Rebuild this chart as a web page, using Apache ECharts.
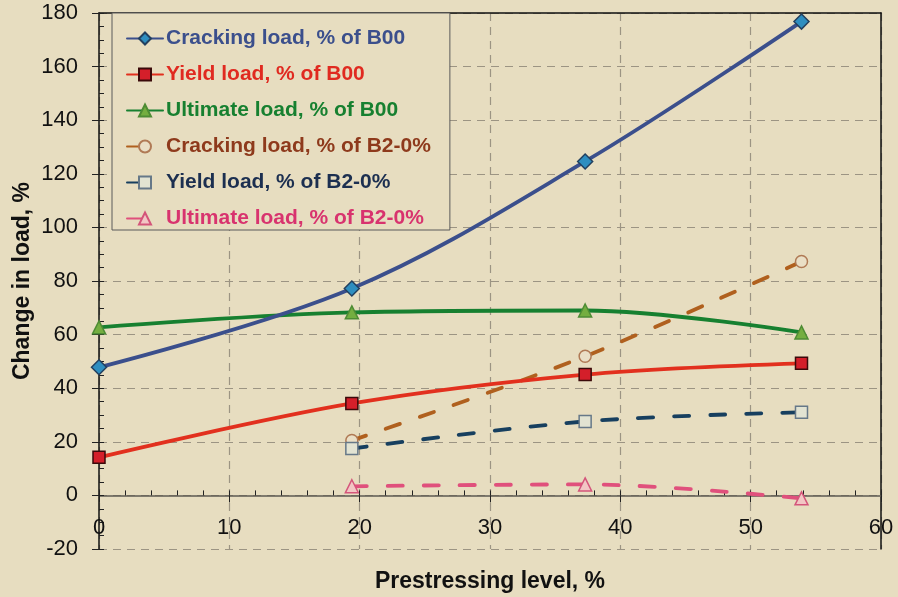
<!DOCTYPE html>
<html>
<head>
<meta charset="utf-8">
<script src="https://cdn.jsdelivr.net/npm/echarts@6/dist/echarts.min.js"></script>
<style>
  html, body { margin: 0; padding: 0; background: #E7DDC0; }
  #chart { width: 898px; height: 597px; }
</style>
</head>
<body>
<div id="chart"></div>
<script>
// Prestressing levels (%) of the tested beams
const prestress = [0, 19.4, 37.3, 53.9];
const prestressB2 = [19.4, 37.3, 53.9];

// Load change relative to B00 (%)
const crackB00 = [47.8, 77.2, 124.6, 176.8];
const yieldB00 = [14.2, 34.3, 45.1, 49.3];
const ultB00 = [62.7, 68.3, 69.0, 60.8];

// Load change relative to B2-0% (%)
const crackB2 = [20.5, 51.9, 87.3];
const yieldB2 = [17.5, 27.6, 31.0];
const ultB2 = [3.4, 4.1, -1.1];

const seriesNames = [
  'Cracking load, % of B00',
  'Yield load, % of B00',
  'Ultimate load, % of B00',
  'Cracking load, % of B2-0%',
  'Yield load, % of B2-0%',
  'Ultimate load, % of B2-0%'
];

const FONT = '"Liberation Sans", Arial, sans-serif';
const BG = '#E7DDC0';
const GRID = '#9C9483';

// plot box in pixels
const PLOT_TOP = 13, PLOT_BOTTOM = 549;
const Y_MIN = -20, Y_MAX = 180;
// distance from the bottom edge (value -20) up to the zero line
const ZERO_OFFSET = (PLOT_BOTTOM - PLOT_TOP) * (0 - Y_MIN) / (Y_MAX - Y_MIN);

function pairs(xs, ys) { return xs.map((x, i) => [x, ys[i]]); }

function lineSeries(name, xs, ys, opt) {
  return {
    name: name,
    type: 'line',
    xAxisIndex: 0,
    yAxisIndex: 0,
    smooth: 0.35,
    data: pairs(xs, ys),
    symbol: opt.symbol,
    symbolSize: opt.size,
    lineStyle: { color: opt.line, width: 3.8, type: opt.dash || 'solid', cap: 'round' },
    itemStyle: { color: opt.fill, borderColor: opt.border, borderWidth: 1.5 },
    z: opt.z || 3
  };
}

const DASH = [15, 21];

const series = [
  lineSeries(seriesNames[0], prestress, crackB00, { symbol: 'diamond', size: 15, line: '#3B4F8C', fill: '#2E8EC0', border: '#23405F', z: 5 }),
  lineSeries(seriesNames[1], prestress, yieldB00, { symbol: 'rect', size: 12, line: '#E2301E', fill: '#D41F2A', border: '#3A0A0A', z: 5 }),
  lineSeries(seriesNames[2], prestress, ultB00, { symbol: 'triangle', size: 13, line: '#178030', fill: '#74AE40', border: '#4E8C34', z: 4 }),
  lineSeries(seriesNames[3], prestressB2, crackB2, { symbol: 'circle', size: 12, line: '#B0601E', fill: '#EADFC6', border: '#B07A55', dash: DASH }),
  lineSeries(seriesNames[4], prestressB2, yieldB2, { symbol: 'rect', size: 12, line: '#173F5F', fill: '#E2E3D2', border: '#667888', dash: DASH }),
  lineSeries(seriesNames[5], prestressB2, ultB2, { symbol: 'triangle', size: 13, line: '#E0507C', fill: '#F2C6C4', border: '#D4557A', dash: DASH })
];

const legendColors = ['#3B4F8C', '#E02A20', '#178030', '#8E3A1C', '#1C2F50', '#D8336E'];

const option = {
  backgroundColor: BG,
  animation: false,
  textStyle: { fontFamily: FONT },
  grid: { left: 99, right: 17, top: PLOT_TOP, bottom: 597 - PLOT_BOTTOM, containLabel: false, outerBoundsMode: 'none' },
  legend: {
    orient: 'vertical',
    left: 112,
    top: 13,
    padding: [15, 19, 1, 14],
    itemWidth: 36,
    itemHeight: 15,
    itemGap: 15,
    backgroundColor: BG,
    borderColor: '#5A5A5A',
    borderWidth: 1,
    data: seriesNames.map((n, i) => ({
      name: n,
      textStyle: { color: legendColors[i] }
    })),
    textStyle: { fontFamily: FONT, fontSize: 21, fontWeight: 'bold', padding: [0, 0, 0, -2] }
  },
  xAxis: [
    {
      type: 'value', min: 0, max: 60, interval: 10,
      offset: -ZERO_OFFSET,
      name: 'Prestressing level, %',
      nameLocation: 'middle',
      nameGap: 75,
      nameMoveOverlap: false,
      nameTextStyle: { fontFamily: FONT, fontSize: 23, fontWeight: 'bold', color: '#111' },
      axisLine: { show: true, onZero: false, lineStyle: { color: '#5E5A52', width: 1.5 } },
      axisTick: { show: true, length: 7, lineStyle: { color: '#222', width: 1 } },
      axisLabel: { fontFamily: FONT, fontSize: 22, color: '#111', margin: 22 },
      splitLine: { show: true, lineStyle: { color: GRID, type: [8, 6], width: 1.2 } }
    },
    {
      // minor ticks along the zero line
      type: 'value', min: 0, max: 60, interval: 2,
      position: 'bottom',
      offset: -ZERO_OFFSET,
      axisLine: { show: false, onZero: false },
      axisTick: { show: true, inside: true, length: 5, lineStyle: { color: '#222', width: 1 } },
      axisLabel: { show: false },
      splitLine: { show: false }
    },
    {
      // top frame
      type: 'value', min: 0, max: 60, interval: 10,
      position: 'top',
      axisLine: { show: true, onZero: false, lineStyle: { color: '#111', width: 1.5 } },
      axisTick: { show: false },
      axisLabel: { show: false },
      splitLine: { show: false }
    }
  ],
  yAxis: [
    {
      type: 'value', min: Y_MIN, max: Y_MAX, interval: 20,
      name: 'Change in load, %',
      nameLocation: 'middle',
      nameGap: 65,
      nameMoveOverlap: false,
      nameTextStyle: { fontFamily: FONT, fontSize: 23, fontWeight: 'bold', color: '#111' },
      axisLine: { show: true, onZero: false, lineStyle: { color: '#111', width: 1.5 } },
      axisTick: { show: true, length: 7, lineStyle: { color: '#222', width: 1 } },
      axisLabel: { fontFamily: FONT, fontSize: 22, color: '#111', margin: 21 },
      splitLine: { show: true, lineStyle: { color: GRID, type: [8, 6], width: 1.2 } }
    },
    {
      // right frame
      type: 'value', min: Y_MIN, max: Y_MAX, interval: 20,
      position: 'right',
      axisLine: { show: true, onZero: false, lineStyle: { color: '#111', width: 1.5 } },
      axisTick: { show: false },
      axisLabel: { show: false },
      splitLine: { show: false }
    },
    {
      // minor ticks on the inner side of the value axis
      type: 'value', min: Y_MIN, max: Y_MAX, interval: 5,
      position: 'left',
      axisLine: { show: false, onZero: false },
      axisTick: { show: true, inside: true, length: 5, lineStyle: { color: '#222', width: 1 } },
      axisLabel: { show: false },
      splitLine: { show: false }
    }
  ],
  series: series
};

const chart = echarts.init(document.getElementById('chart'), null, { renderer: 'canvas' });
chart.setOption(option);
</script>
</body>
</html>
